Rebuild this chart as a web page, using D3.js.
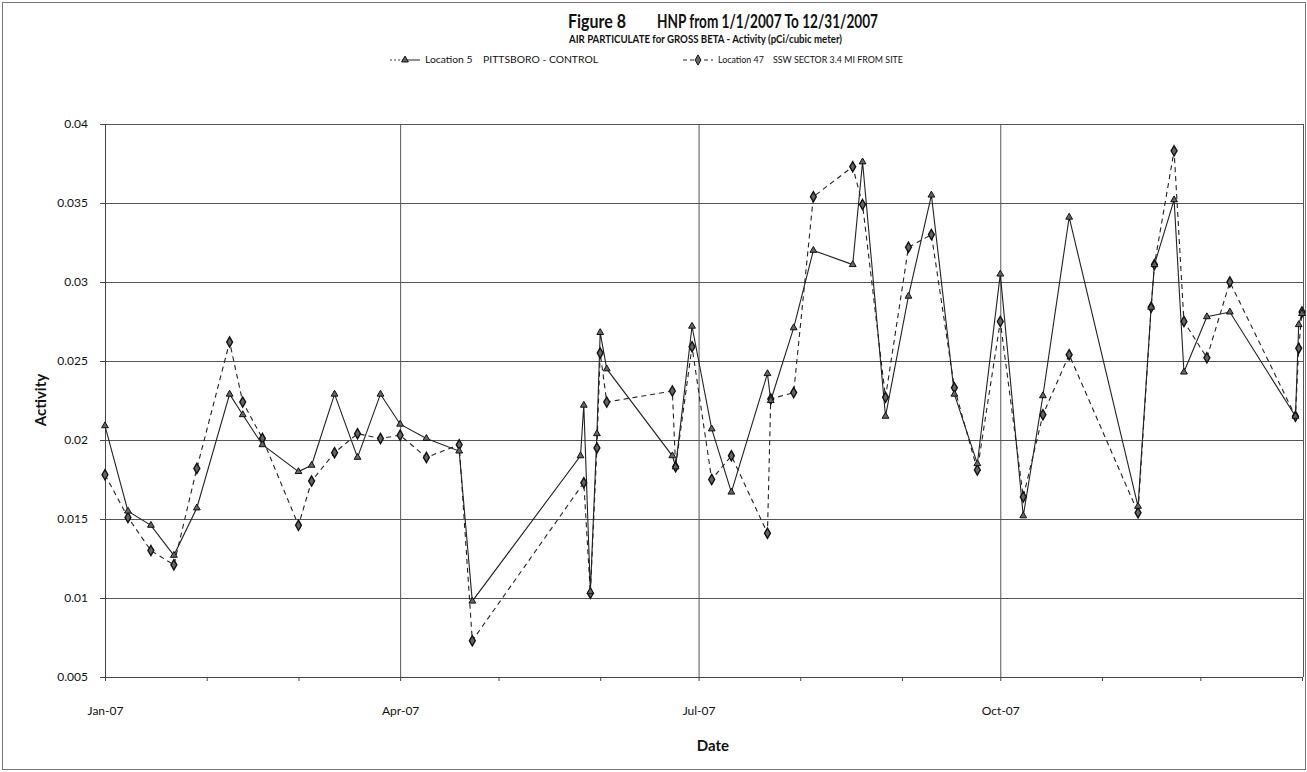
<!DOCTYPE html>
<html>
<head>
<meta charset="utf-8">
<script src="https://cdn.jsdelivr.net/npm/d3@7/dist/d3.min.js"></script>
<style>
  body { margin: 0; background: #fff; }
  text { font-family: Lato, "Open Sans", sans-serif; fill: #111; }
</style>
</head>
<body>
<script>
// Location 5 - Pittsboro (control), solid line with triangles
var loc5Dates = ["2007-01-01","2007-01-08","2007-01-15","2007-01-22","2007-01-29","2007-02-08","2007-02-12","2007-02-18",
	"2007-03-01","2007-03-05","2007-03-12","2007-03-19","2007-03-26","2007-04-01","2007-04-09","2007-04-19","2007-04-23",
	"2007-05-26","2007-05-27","2007-05-29","2007-05-31","2007-06-01","2007-06-03","2007-06-23","2007-06-24","2007-06-29",
	"2007-07-05","2007-07-11","2007-07-22","2007-07-23","2007-07-30","2007-08-05","2007-08-17","2007-08-20","2007-08-27",
	"2007-09-03","2007-09-10","2007-09-17","2007-09-24","2007-10-01","2007-10-08","2007-10-14","2007-10-22",
	"2007-11-12","2007-11-16","2007-11-17","2007-11-23","2007-11-26","2007-12-03","2007-12-10","2007-12-30","2007-12-31","2008-01-01"];
var loc5Values = [0.0209,0.0155,0.0146,0.0127,0.0157,0.0229,0.0216,0.0197,
	0.0180,0.0184,0.0229,0.0189,0.0229,0.0210,0.0201,0.0193,0.0098,
	0.0190,0.0222,0.0104,0.0204,0.0268,0.0245,0.0190,0.0183,0.0272,
	0.0207,0.0167,0.0242,0.0225,0.0271,0.0320,0.0311,0.0376,0.0215,
	0.0291,0.0355,0.0229,0.0185,0.0305,0.0152,0.0228,0.0341,
	0.0158,0.0284,0.0311,0.0352,0.0243,0.0278,0.0281,0.0215,0.0273,0.0280];

// Location 47 - SSW sector 3.4 mi, dashed line with diamonds
var loc47Dates = ["2007-01-01","2007-01-08","2007-01-15","2007-01-22","2007-01-29","2007-02-08","2007-02-12","2007-02-18",
	"2007-03-01","2007-03-05","2007-03-12","2007-03-19","2007-03-26","2007-04-01","2007-04-09","2007-04-19","2007-04-23",
	"2007-05-27","2007-05-29","2007-05-31","2007-06-01","2007-06-03","2007-06-23","2007-06-24","2007-06-29",
	"2007-07-05","2007-07-11","2007-07-22","2007-07-23","2007-07-30","2007-08-05","2007-08-17","2007-08-20","2007-08-27",
	"2007-09-03","2007-09-10","2007-09-17","2007-09-24","2007-10-01","2007-10-08","2007-10-14","2007-10-22",
	"2007-11-12","2007-11-16","2007-11-17","2007-11-23","2007-11-26","2007-12-03","2007-12-10","2007-12-30","2007-12-31","2008-01-01"];
var loc47Values = [0.0178,0.0151,0.0130,0.0121,0.0182,0.0262,0.0224,0.0201,
	0.0146,0.0174,0.0192,0.0204,0.0201,0.0203,0.0189,0.0197,0.0073,
	0.0173,0.0103,0.0195,0.0255,0.0224,0.0231,0.0183,0.0259,
	0.0175,0.0190,0.0141,0.0226,0.0230,0.0354,0.0373,0.0349,0.0227,
	0.0322,0.0330,0.0233,0.0181,0.0275,0.0164,0.0216,0.0254,
	0.0154,0.0284,0.0311,0.0383,0.0275,0.0252,0.0300,0.0215,0.0258,0.0281];

var yTicks = [0.005,0.01,0.015,0.02,0.025,0.03,0.035,0.04];
var xTicks = ["2007-01-01","2007-04-01","2007-07-01","2007-10-01"];
var legendNames = ["Location 5    PITTSBORO - CONTROL","Location 47    SSW SECTOR 3.4 MI FROM SITE"];

var W = 1307, H = 772;
var plotLeft = 105, plotRight = 1303, plotTop = 124, plotBottom = 677;
var parse = d3.timeParse("%Y-%m-%d");

var svg = d3.select("body").append("svg")
	.attr("width", W).attr("height", H);

// outer frame
svg.append("rect")
	.attr("x", 2.5).attr("y", 2.5).attr("width", W - 4).attr("height", H - 5)
	.attr("fill", "none").attr("stroke", "#777").attr("stroke-width", 1);

var x = d3.scaleTime()
	.domain([parse("2007-01-01"), parse("2008-01-01")])
	.range([plotLeft, 1302]);
var y = d3.scaleLinear()
	.domain([0.005, 0.04])
	.range([plotBottom, plotTop]);

// horizontal grid
svg.append("g")
	.attr("transform", "translate(" + plotLeft + ",0)")
	.call(d3.axisLeft(y).tickValues(yTicks).tickSize(-(plotRight - plotLeft)).tickFormat(""))
	.call(function(g){
		g.select(".domain").remove();
		g.selectAll("line").attr("stroke", "#555").attr("stroke-width", 1);
	});

// vertical grid at quarters
svg.append("g")
	.attr("transform", "translate(0," + plotBottom + ")")
	.call(d3.axisBottom(x).tickValues(xTicks.map(parse)).tickSize(-(plotBottom - plotTop)).tickFormat(""))
	.call(function(g){
		g.select(".domain").remove();
		g.selectAll("line").attr("stroke", "#555").attr("stroke-width", 1);
	});

// right border
svg.append("line")
	.attr("x1", plotRight + 0.5).attr("x2", plotRight + 0.5)
	.attr("y1", plotTop).attr("y2", plotBottom)
	.attr("stroke", "#555");

// y axis with labels
svg.append("g")
	.attr("transform", "translate(" + plotLeft + ",0)")
	.call(d3.axisLeft(y).tickValues(yTicks).tickSize(5).tickPadding(12).tickFormat(d3.format("~g")))
	.call(function(g){
		g.select(".domain").attr("stroke", "#444");
		g.selectAll("line").attr("stroke", "#444");
		g.selectAll("text").style("font-size", "12px").attr("fill", "#222");
	});

// x axis: monthly minor ticks, quarterly labels
svg.append("g")
	.attr("transform", "translate(0," + plotBottom + ")")
	.call(d3.axisBottom(x).ticks(d3.timeMonth.every(1)).tickSize(4).tickFormat(""))
	.call(function(g){
		g.select(".domain").attr("stroke", "#444");
		g.selectAll("line").attr("stroke", "#444");
	});
svg.append("g")
	.attr("transform", "translate(0," + plotBottom + ")")
	.call(d3.axisBottom(x).tickValues(xTicks.map(parse)).tickSize(0).tickPadding(29).tickFormat(d3.timeFormat("%b-%y")))
	.call(function(g){
		g.select(".domain").remove();
		g.selectAll("text").style("font-size", "12px").attr("fill", "#222");
	});

function makeSeries(dates, values){
	return dates.map(function(d, i){ return {date: parse(d), value: values[i]}; });
}
var s5 = makeSeries(loc5Dates, loc5Values);
var s47 = makeSeries(loc47Dates, loc47Values);

var line = d3.line()
	.x(function(d){ return x(d.date); })
	.y(function(d){ return y(d.value); });

svg.append("path")
	.datum(s47)
	.attr("d", line)
	.attr("fill", "none").attr("stroke", "#222").attr("stroke-width", 1.1)
	.attr("stroke-dasharray", "5,4");
svg.append("path")
	.datum(s5)
	.attr("d", line)
	.attr("fill", "none").attr("stroke", "#222").attr("stroke-width", 1.1);

var tri = d3.symbol().type(d3.symbolTriangle).size(20);
var dia = d3.symbol().type(d3.symbolDiamond).size(30);

svg.selectAll(".dia")
	.data(s47)
	.enter().append("path")
	.attr("class", "dia")
	.attr("d", dia)
	.attr("transform", function(d){ return "translate(" + x(d.date) + "," + y(d.value) + ")"; })
	.attr("fill", "#666").attr("stroke", "#111").attr("stroke-width", 1.4);

svg.selectAll(".tri")
	.data(s5)
	.enter().append("path")
	.attr("class", "tri")
	.attr("d", tri)
	.attr("transform", function(d){ return "translate(" + x(d.date) + "," + y(d.value) + ")"; })
	.attr("fill", "#666").attr("stroke", "#111").attr("stroke-width", 1);

// titles
svg.append("text")
	.attr("x", 568).attr("y", 28)
	.attr("textLength", 58).attr("lengthAdjust", "spacingAndGlyphs")
	.style("font-size", "19px").style("font-weight", "bold")
	.text("Figure 8");
svg.append("text")
	.attr("x", 657).attr("y", 28)
	.attr("textLength", 221).attr("lengthAdjust", "spacingAndGlyphs")
	.style("font-size", "19px").style("font-weight", "bold")
	.text("HNP from 1/1/2007 To 12/31/2007");
svg.append("text")
	.attr("x", 569).attr("y", 43)
	.attr("textLength", 273).attr("lengthAdjust", "spacingAndGlyphs")
	.style("font-size", "11.5px").style("font-weight", "bold")
	.text("AIR PARTICULATE for GROSS BETA - Activity (pCi/cubic meter)");

// legend
var lg = svg.append("g").attr("transform", "translate(0,60)");
lg.append("line").attr("x1", 390).attr("x2", 404).attr("stroke", "#444").attr("stroke-dasharray", "2,2");
lg.append("line").attr("x1", 404).attr("x2", 420).attr("stroke", "#222");
lg.append("path").attr("d", tri).attr("transform", "translate(405,0)")
	.attr("fill", "#666").attr("stroke", "#111");
lg.append("text").attr("x", 425).attr("y", 3).style("font-size", "9.5px")
	.attr("textLength", 173).attr("lengthAdjust", "spacingAndGlyphs")
	.attr("xml:space", "preserve").text(legendNames[0]);
lg.append("line").attr("x1", 683).attr("x2", 713).attr("stroke", "#222").attr("stroke-dasharray", "4,3");
lg.append("path").attr("d", dia).attr("transform", "translate(698,0)")
	.attr("fill", "#666").attr("stroke", "#111");
lg.append("text").attr("x", 718).attr("y", 3).style("font-size", "9.5px")
	.attr("textLength", 185).attr("lengthAdjust", "spacingAndGlyphs")
	.attr("xml:space", "preserve").text(legendNames[1]);

// axis titles
svg.append("text")
	.attr("transform", "translate(46,400) rotate(-90)")
	.attr("text-anchor", "middle")
	.style("font-size", "15px").style("font-weight", "bold")
	.text("Activity");
svg.append("text")
	.attr("x", 713).attr("y", 751)
	.attr("text-anchor", "middle")
	.style("font-size", "15px").style("font-weight", "bold")
	.text("Date");
</script>
</body>
</html>
